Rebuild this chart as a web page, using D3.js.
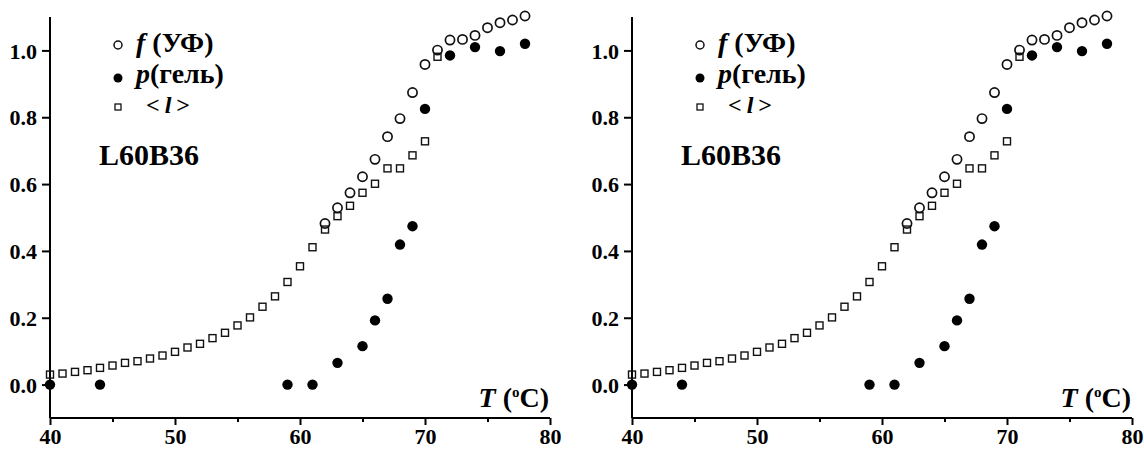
<!DOCTYPE html>
<html>
<head>
<meta charset="utf-8">
<script src="https://cdn.jsdelivr.net/npm/d3@7"></script>
<style>
  body { margin: 0; background: #fff; }
  svg text { font-family: "Liberation Serif", "DejaVu Serif", "Times New Roman", Times, serif !important; font-weight: bold; fill: #000; }
</style>
</head>
<body>
<div id="chart"></div>
<script>
// <l> (open squares)
var lTemps = [40,41,42,43,44,45,46,47,48,49,50,51,52,53,54,55,56,57,58,59,60,61,62,63,64,65,66,67,68,69,70,71];
var lValues = [0.030,0.033,0.038,0.043,0.050,0.057,0.065,0.070,0.078,0.087,0.098,0.111,0.122,0.139,0.155,0.177,0.201,0.233,0.264,0.307,0.354,0.411,0.464,0.504,0.535,0.574,0.601,0.647,0.647,0.686,0.728,0.981];

// f (UV), open circles
var fTemps = [62,63,64,65,66,67,68,69,70,71,72,73,74,75,76,77,78];
var fValues = [0.482,0.529,0.574,0.622,0.674,0.742,0.796,0.874,0.958,1.001,1.031,1.033,1.045,1.068,1.083,1.091,1.103];

// p (gel), filled circles
var pTemps = [40,44,59,61,63,65,66,67,68,69,70,72,74,76,78];
var pValues = [0.0,0.0,0.0,0.0,0.065,0.115,0.192,0.257,0.419,0.474,0.825,0.985,1.010,0.998,1.020];

var xTicks = [40,50,60,70,80];
var xMinorTicks = [45,55,65,75];
var yTicks = [0.0,0.2,0.4,0.6,0.8,1.0];
var panelOffsets = [0, 582];

var W = 1144, H = 451;
var margin = {left: 50, top: 17};
var width = 500, height = 401;
var serif = '"Liberation Serif", "DejaVu Serif", "Times New Roman", serif';

var svg = d3.select("#chart").append("svg")
    .attr("width", W)
    .attr("height", H)
    .attr("font-family", serif);

var x = d3.scaleLinear().domain([40, 80]).range([0, width]);
var y = d3.scaleLinear().domain([-0.1, 1.1]).range([height, 0]);

function drawPanel(offset) {
    var g = svg.append("g")
        .attr("transform", `translate(${margin.left + offset},${margin.top})`);

    // x axis
    var xAxis = g.append("g")
        .attr("transform", `translate(0,${height})`)
        .call(d3.axisBottom(x).tickValues(xTicks).tickSize(7).tickPadding(3).tickFormat(d3.format("d")));
    g.append("g")
        .attr("transform", `translate(0,${height})`)
        .call(d3.axisBottom(x).tickValues(xMinorTicks).tickSize(4).tickFormat(""))
        .select(".domain").remove();

    // y axis
    var yAxis = g.append("g")
        .call(d3.axisLeft(y).tickValues(yTicks).tickSize(8).tickFormat(d3.format(".1f")).tickPadding(5));

    [xAxis, yAxis].forEach(function(a) {
        a.attr("font-family", serif);
        a.select(".domain").attr("stroke-width", 2);
        a.selectAll("text").style("font-family", serif);
    });
    xAxis.selectAll("text").style("font-size", "22px");
    yAxis.selectAll("text").style("font-size", "22px").attr("dy", "0.35em");
    xAxis.select(".domain").attr("d", `M0,0H${width}`);
    yAxis.select(".domain").attr("d", `M0,0V${height}`);
    g.selectAll(".tick line").attr("stroke-width", 2);

    // <l> squares
    var s = 7;
    g.append("g").selectAll("rect")
        .data(lTemps)
        .join("rect")
        .attr("x", function(d) { return x(d) - s / 2; })
        .attr("y", function(d, i) { return y(lValues[i]) - s / 2; })
        .attr("width", s)
        .attr("height", s)
        .attr("fill", "none")
        .attr("stroke", "#111")
        .attr("stroke-width", 1.4);

    // f open circles
    g.append("g").selectAll("circle")
        .data(fTemps)
        .join("circle")
        .attr("cx", function(d) { return x(d); })
        .attr("cy", function(d, i) { return y(fValues[i]); })
        .attr("r", 4.6)
        .attr("fill", "none")
        .attr("stroke", "#111")
        .attr("stroke-width", 1.7);

    // p filled circles
    g.append("g").selectAll("circle")
        .data(pTemps)
        .join("circle")
        .attr("cx", function(d) { return x(d); })
        .attr("cy", function(d, i) { return y(pValues[i]); })
        .attr("r", 5.2)
        .attr("fill", "#000");

    // legend
    var lg = g.append("g").attr("transform", "translate(68,0)");
    lg.append("circle").attr("cx", 0).attr("cy", 28).attr("r", 4)
        .attr("fill", "none").attr("stroke", "#111").attr("stroke-width", 1.5);
    var t1 = lg.append("text").attr("x", 18).attr("y", 35).style("font-size", "28px");
    t1.append("tspan").style("font-style", "italic").text("f");
    t1.append("tspan").text(" (УФ)");

    lg.append("circle").attr("cx", 0).attr("cy", 61).attr("r", 4.5).attr("fill", "#000");
    var t2 = lg.append("text").attr("x", 18).attr("y", 66).style("font-size", "28px");
    t2.append("tspan").style("font-style", "italic").text("p");
    t2.append("tspan").text("(гель)");

    lg.append("rect").attr("x", -3).attr("y", 87).attr("width", 6).attr("height", 6)
        .attr("fill", "none").attr("stroke", "#111").attr("stroke-width", 1.3);
    var t3 = lg.append("text").attr("x", 28).attr("y", 96).style("font-size", "24px");
    t3.append("tspan").text("<");
    t3.append("tspan").style("font-style", "italic").attr("dx", 5).text("l");
    t3.append("tspan").attr("dx", 5).text(">");

    g.append("text")
        .attr("x", 49).attr("y", 148)
        .style("font-size", "30px")
        .text("L60B36");

    // axis title
    var tt = g.append("text")
        .attr("x", width - 1).attr("y", 390)
        .attr("text-anchor", "end")
        .style("font-size", "28px");
    tt.append("tspan").style("font-style", "italic").text("T");
    tt.append("tspan").text(" (");
    tt.append("tspan").attr("dy", -10).style("font-size", "15px").text("o");
    tt.append("tspan").attr("dy", 10).text("C)");
}

panelOffsets.forEach(drawPanel);
</script>
</body>
</html>
